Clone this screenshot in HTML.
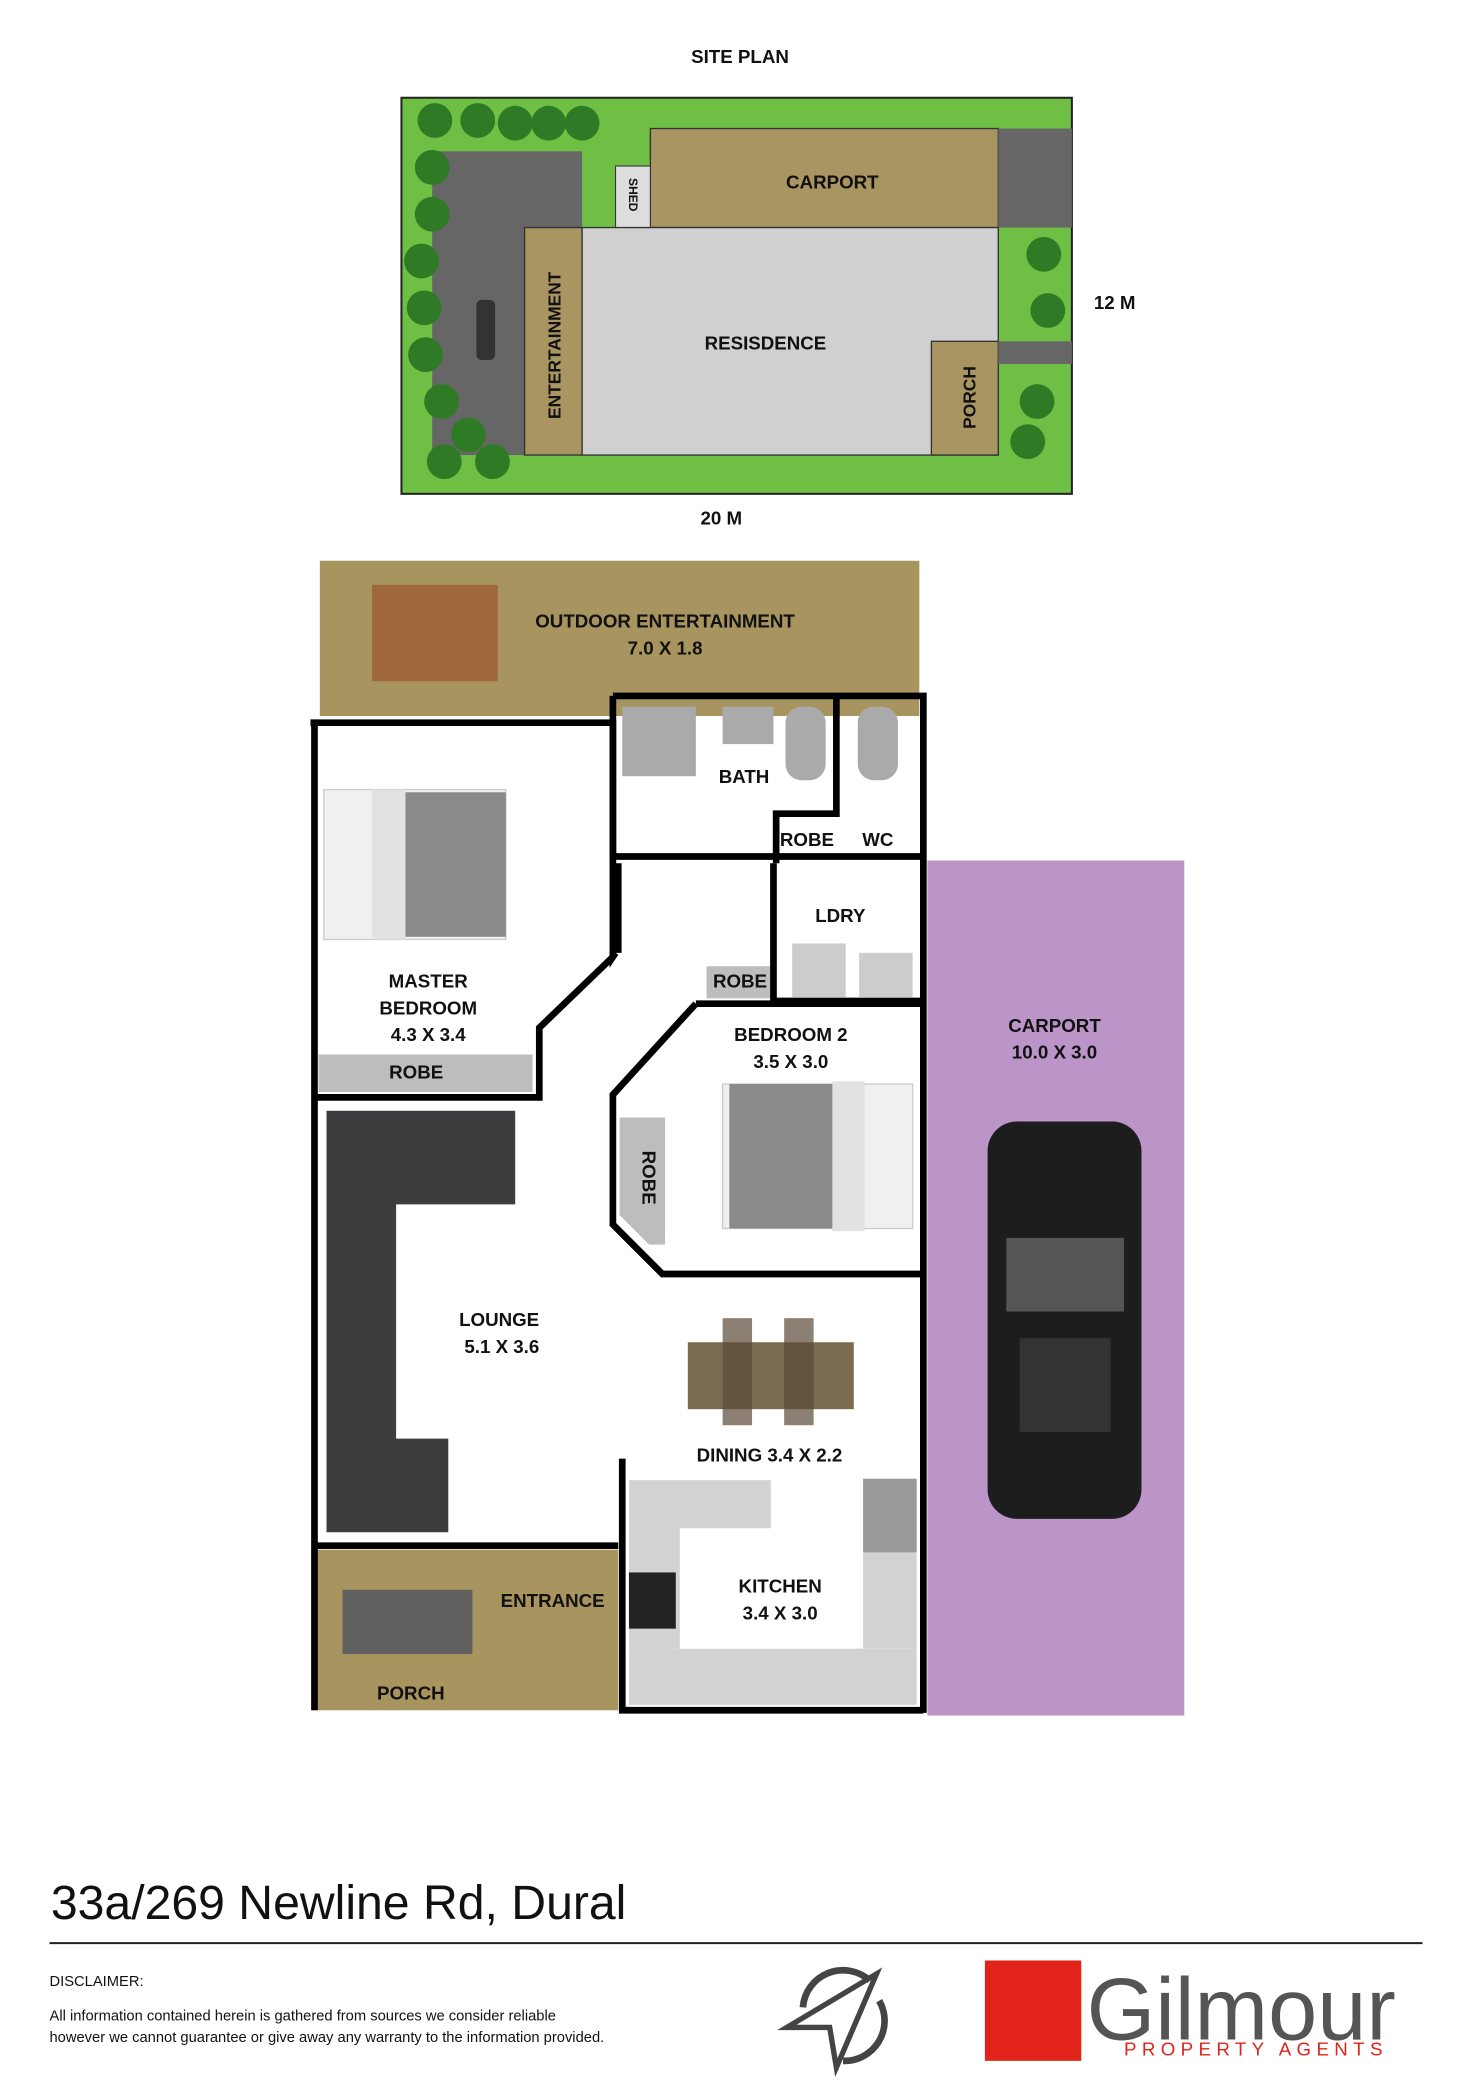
<!DOCTYPE html>
<html><head><meta charset="utf-8"><style>
html,body{margin:0;padding:0;background:#fff}
svg{display:block}
text{font-family:"Liberation Sans",sans-serif;font-weight:bold;fill:#111}
</style></head><body>
<svg width="1472" height="2081" viewBox="0 0 1100 1555" xmlns="http://www.w3.org/2000/svg">
<!-- SITE PLAN -->
<text x="553" y="47" font-size="14" text-anchor="middle">SITE PLAN</text>
<rect x="300" y="73" width="501" height="296" fill="#6fbf45" stroke="#222" stroke-width="1.5"/>
<rect x="323" y="113" width="112" height="227" fill="#666"/>
<rect x="486" y="96" width="260" height="74" fill="#a99561" stroke="#333" stroke-width="1"/>
<rect x="746" y="96" width="55" height="74" fill="#666"/>
<rect x="460" y="124" width="26" height="46" fill="#ddd" stroke="#333" stroke-width="0.8"/>
<text x="0" y="0" font-size="9" transform="translate(470,133) rotate(90)">SHED</text>
<rect x="392" y="170" width="43" height="170" fill="#a99561" stroke="#333" stroke-width="1"/>
<rect x="435" y="170" width="311" height="170" fill="#d0d0d0" stroke="#333" stroke-width="1"/>
<rect x="696" y="255" width="50" height="85" fill="#a99561" stroke="#333" stroke-width="1"/>
<rect x="746" y="255" width="55" height="17" fill="#666"/>
<text x="622" y="141" font-size="14" text-anchor="middle">CARPORT</text>
<text x="572" y="261" font-size="14" text-anchor="middle">RESISDENCE</text>
<text font-size="13" text-anchor="middle" transform="translate(419,258) rotate(-90)">ENTERTAINMENT</text>
<text font-size="13" text-anchor="middle" transform="translate(729,297) rotate(-90)">PORCH</text>
<rect x="356" y="224" width="14" height="45" rx="4" fill="#333"/>
<g fill="#2f7a24">
<circle cx="325" cy="90" r="13"/><circle cx="357" cy="90" r="13"/><circle cx="385" cy="92" r="13"/><circle cx="410" cy="92" r="13"/><circle cx="435" cy="92" r="13"/>
<circle cx="323" cy="125" r="13"/><circle cx="323" cy="160" r="13"/><circle cx="315" cy="195" r="13"/><circle cx="317" cy="230" r="13"/><circle cx="318" cy="265" r="13"/><circle cx="330" cy="300" r="13"/><circle cx="350" cy="325" r="13"/><circle cx="332" cy="345" r="13"/><circle cx="368" cy="345" r="13"/>
<circle cx="780" cy="190" r="13"/><circle cx="783" cy="232" r="13"/><circle cx="775" cy="300" r="13"/><circle cx="768" cy="330" r="13"/>
</g>
<text x="833" y="231" font-size="14" text-anchor="middle">12 M</text>
<text x="539" y="392" font-size="14" text-anchor="middle">20 M</text>

<!-- FLOOR PLAN -->
<rect x="239" y="419" width="448" height="116" fill="#a8945e"/>
<rect x="278" y="437" width="94" height="72" fill="#a0673a"/>
<text x="497" y="469" font-size="14" text-anchor="middle">OUTDOOR ENTERTAINMENT</text>
<text x="497" y="489" font-size="14" text-anchor="middle">7.0 X 1.8</text>
<rect x="693" y="643" width="192" height="639" fill="#bb94c8"/>
<text x="788" y="771" font-size="14" text-anchor="middle">CARPORT</text>
<text x="788" y="791" font-size="14" text-anchor="middle">10.0 X 3.0</text>
<rect x="738" y="838" width="115" height="297" rx="22" fill="#1d1d1d"/>
<rect x="752" y="925" width="88" height="55" fill="#555"/>
<rect x="762" y="1000" width="68" height="70" fill="#333"/>
<rect x="233" y="1158" width="229" height="120" fill="#a8945e"/>
<rect x="256" y="1188" width="97" height="48" fill="#606060"/>
<text x="413" y="1201" font-size="14" text-anchor="middle">ENTRANCE</text>
<text x="307" y="1270" font-size="14" text-anchor="middle">PORCH</text>
<!-- furniture -->
<rect x="242" y="590" width="136" height="112" fill="#f0f0f0" stroke="#ccc"/>
<rect x="300" y="592" width="78" height="108" fill="#8a8a8a"/>
<rect x="278" y="590" width="25" height="112" fill="#e2e2e2"/>
<rect x="540" y="810" width="142" height="108" fill="#f0f0f0" stroke="#ccc"/>
<rect x="545" y="810" width="80" height="108" fill="#8a8a8a"/>
<rect x="622" y="808" width="24" height="112" fill="#e2e2e2"/>
<path d="M244 830 H385 V900 H296 V1075 H335 V1145 H244 Z" fill="#3d3d3f"/>
<rect x="514" y="1003" width="124" height="50" fill="#7a6a50"/>
<rect x="540" y="985" width="22" height="80" fill="#5a4a38" opacity=".7"/>
<rect x="586" y="985" width="22" height="80" fill="#5a4a38" opacity=".7"/>
<path d="M470 1106 H576 V1142 H508 V1232 H470 Z" fill="#d2d2d2"/>
<rect x="470" y="1232" width="215" height="42" fill="#d2d2d2"/>
<rect x="645" y="1105" width="40" height="127" fill="#d2d2d2"/>
<rect x="645" y="1105" width="40" height="55" fill="#999"/>
<rect x="470" y="1175" width="35" height="42" fill="#222"/>
<rect x="465" y="528" width="55" height="52" fill="#aaa"/>
<rect x="540" y="528" width="38" height="28" fill="#aaa"/>
<rect x="587" y="528" width="30" height="55" rx="12" fill="#aaa"/>
<rect x="641" y="528" width="30" height="55" rx="12" fill="#aaa"/>
<rect x="592" y="705" width="40" height="40" fill="#ccc"/>
<rect x="642" y="712" width="40" height="33" fill="#ccc"/>
<rect x="238" y="788" width="160" height="28" fill="#bdbdbd"/>
<rect x="528" y="722" width="48" height="24" fill="#bdbdbd"/>
<path d="M463 835 H497 V930 H485 L463 908 Z" fill="#bdbdbd"/>
<!-- walls -->
<g fill="none" stroke="#000" stroke-width="5" stroke-linejoin="miter">
<path d="M232 540 H458 V715 L460 712"/>
<path d="M235 540 V1278"/>
<path d="M458 520 H690 V1280"/>
<path d="M458 520 V640 H690"/>
<path d="M458 715 L403 768 V820 H235"/>
<path d="M462 645 V712"/>
<path d="M625 520 V608 H580 V645"/>
<path d="M578 645 V748 H690"/>
<path d="M520 750 H690"/>
<path d="M520 750 L458 818 V915 L495 952 H690"/>
<path d="M235 1155 H462"/>
<path d="M465 1090 V1278 H690"/>
</g>
<g font-size="14" text-anchor="middle">
<text x="556" y="585">BATH</text>
<text x="603" y="632">ROBE</text>
<text x="656" y="632">WC</text>
<text x="628" y="689">LDRY</text>
<text x="553" y="738">ROBE</text>
<text x="320" y="738">MASTER</text>
<text x="320" y="758">BEDROOM</text>
<text x="320" y="778">4.3 X 3.4</text>
<text x="311" y="806">ROBE</text>
<text x="591" y="778">BEDROOM 2</text>
<text x="591" y="798">3.5 X 3.0</text>
<text transform="translate(480,880) rotate(90)">ROBE</text>
<text x="373" y="991">LOUNGE</text>
<text x="375" y="1011">5.1 X 3.6</text>
<text x="575" y="1092">DINING 3.4 X 2.2</text>
<text x="583" y="1190">KITCHEN</text>
<text x="583" y="1210">3.4 X 3.0</text>
</g>

<!-- FOOTER -->
<text x="38" y="1434" font-size="36" style="font-weight:normal">33a/269 Newline Rd, Dural</text>
<line x1="37" y1="1452" x2="1063" y2="1452" stroke="#222" stroke-width="1.5"/>
<text x="37" y="1484" font-size="11" style="font-weight:normal">DISCLAIMER:</text>
<text x="37" y="1510" font-size="11" style="font-weight:normal">All information contained herein is gathered from sources we consider reliable</text>
<text x="37" y="1526" font-size="11" style="font-weight:normal">however we cannot guarantee or give away any warranty to the information provided.</text>
<g fill="none" stroke="#444" stroke-width="5">
<path d="M600 1500 A30 30 0 0 1 650 1480"/>
<path d="M657 1495 A30 30 0 0 1 630 1540"/>
<path d="M588 1515 L655 1475 L625 1545 L620 1515 Z" stroke-width="4"/>
</g>
<rect x="736" y="1465" width="72" height="75" fill="#e2231a"/>
<text x="812" y="1524" font-size="66" style="font-weight:normal;fill:#555">Gilmour</text>
<text x="840" y="1536" font-size="14" style="font-weight:normal;fill:#e2231a;letter-spacing:4px">PROPERTY AGENTS</text>
</svg>
</body></html>
